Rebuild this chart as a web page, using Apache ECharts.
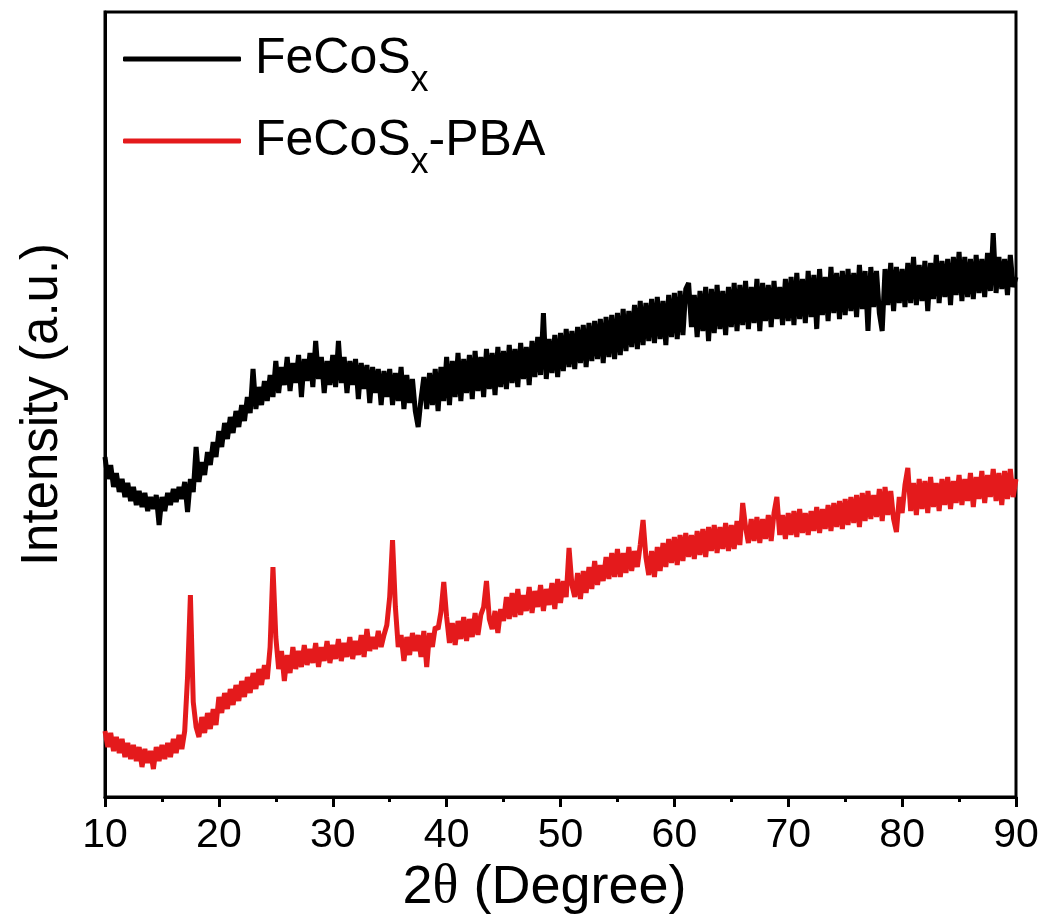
<!DOCTYPE html>
<html>
<head>
<meta charset="utf-8">
<style>html,body{margin:0;padding:0;background:#fff}#chart{width:1045px;height:921px}</style>
<script src="https://cdn.jsdelivr.net/npm/echarts@6/dist/echarts.min.js"></script>
</head>
<body>
<div id="chart"></div>
<script>
// 2θ angles (degrees)
const twoTheta = [
10,10.25,10.5,10.75,11,11.25,11.5,11.75,12,12.25,12.5,12.75,13,13.25,13.5,13.75,14,14.25,14.5,14.75,
15,15.25,15.5,15.75,16,16.25,16.5,16.75,17,17.25,17.5,17.75,18,18.25,18.5,18.75,19,19.25,19.5,19.75,
20,20.25,20.5,20.75,21,21.25,21.5,21.75,22,22.25,22.5,22.75,23,23.25,23.5,23.75,24,24.25,24.5,24.75,
25,25.25,25.5,25.75,26,26.25,26.5,26.75,27,27.25,27.5,27.75,28,28.25,28.5,28.75,29,29.25,29.5,29.75,
30,30.25,30.5,30.75,31,31.25,31.5,31.75,32,32.25,32.5,32.75,33,33.25,33.5,33.75,34,34.25,34.5,34.75,
35,35.25,35.5,35.75,36,36.25,36.5,36.75,37,37.25,37.5,37.75,38,38.25,38.5,38.75,39,39.25,39.5,39.75,
40,40.25,40.5,40.75,41,41.25,41.5,41.75,42,42.25,42.5,42.75,43,43.25,43.5,43.75,44,44.25,44.5,44.75,
45,45.25,45.5,45.75,46,46.25,46.5,46.75,47,47.25,47.5,47.75,48,48.25,48.5,48.75,49,49.25,49.5,49.75,
50,50.25,50.5,50.75,51,51.25,51.5,51.75,52,52.25,52.5,52.75,53,53.25,53.5,53.75,54,54.25,54.5,54.75,
55,55.25,55.5,55.75,56,56.25,56.5,56.75,57,57.25,57.5,57.75,58,58.25,58.5,58.75,59,59.25,59.5,59.75,
60,60.25,60.5,60.75,61,61.25,61.5,61.75,62,62.25,62.5,62.75,63,63.25,63.5,63.75,64,64.25,64.5,64.75,
65,65.25,65.5,65.75,66,66.25,66.5,66.75,67,67.25,67.5,67.75,68,68.25,68.5,68.75,69,69.25,69.5,69.75,
70,70.25,70.5,70.75,71,71.25,71.5,71.75,72,72.25,72.5,72.75,73,73.25,73.5,73.75,74,74.25,74.5,74.75,
75,75.25,75.5,75.75,76,76.25,76.5,76.75,77,77.25,77.5,77.75,78,78.25,78.5,78.75,79,79.25,79.5,79.75,
80,80.25,80.5,80.75,81,81.25,81.5,81.75,82,82.25,82.5,82.75,83,83.25,83.5,83.75,84,84.25,84.5,84.75,
85,85.25,85.5,85.75,86,86.25,86.5,86.75,87,87.25,87.5,87.75,88,88.25,88.5,88.75,89,89.25,89.5,89.75,
90
];

// FeCoSx intensity (a.u.)
const fecosx = [
340,318,332,310,324,305,318,300,314,296,310,292,306,290,304,286,300,288,302,272,
300,286,304,292,308,295,310,298,315,285,318,305,350,315,335,322,345,332,355,340,
366,350,374,358,380,364,386,370,392,376,400,384,428,388,410,392,416,396,422,400,
436,404,430,412,440,406,434,414,442,400,438,416,444,410,456,418,440,404,436,412,
442,410,456,414,440,404,436,412,438,398,434,408,432,394,430,404,428,392,426,400,
428,392,424,396,430,388,422,394,418,386,370,398,420,388,424,392,428,386,430,396,
440,392,436,400,444,396,438,404,442,398,446,406,440,400,448,408,444,402,450,410,
446,408,452,414,448,410,454,418,450,412,456,420,460,422,484,418,458,424,462,420,
464,426,468,430,466,428,470,434,472,430,474,436,476,438,478,434,480,440,482,438,
484,442,488,446,486,450,492,448,496,452,494,456,498,454,500,458,496,452,502,460,
504,458,506,462,508,514,470,502,460,506,466,510,456,508,464,512,468,506,462,510,
470,514,466,512,472,516,468,510,474,518,466,514,476,512,470,516,478,510,472,518,
476,520,472,524,478,518,474,526,480,522,468,528,482,520,476,530,484,524,478,526,
482,528,486,524,480,532,488,526,466,530,490,526,484,466,528,492,534,486,530,494,
528,490,534,494,540,492,532,496,536,486,534,498,542,494,536,500,538,492,540,502,
545,496,540,500,538,498,542,504,538,500,544,506,564,504,540,508,538,502,542,510,
520
];

// FeCoSx-PBA intensity (a.u.)
const fecosxPba = [
66,50,64,46,60,44,58,40,54,38,52,36,50,30,48,34,46,28,50,36,
52,38,54,40,58,44,62,48,66,120,202,95,70,60,80,64,84,68,88,72,
100,84,104,88,108,92,112,96,116,100,120,104,124,108,128,112,132,118,150,230,
160,128,146,116,142,124,150,128,146,130,152,132,148,134,154,130,150,136,156,134,
152,138,158,136,154,140,160,138,156,142,162,140,168,146,160,148,166,150,162,172,
200,257,190,150,162,136,160,142,164,146,162,140,166,130,164,150,170,168,185,215,
180,154,174,152,176,158,180,156,178,160,184,162,182,190,216,178,168,186,164,188,
176,200,178,204,180,208,182,202,186,210,184,206,190,212,186,208,192,214,188,218,
194,216,200,249,212,200,224,198,226,204,230,208,236,212,232,216,240,218,244,220,
248,220,244,224,250,226,246,230,252,277,240,222,246,220,250,226,254,230,258,234,
260,232,262,236,264,240,262,238,266,242,268,240,270,246,272,244,270,248,274,246,
272,248,276,252,294,270,254,278,256,280,254,278,258,282,256,284,300,262,282,258,
284,262,286,260,288,264,284,262,286,266,290,264,288,268,292,266,294,270,296,268,
298,272,300,274,302,270,304,276,306,278,302,280,308,276,310,282,306,278,265,300,
284,312,329,286,314,282,318,288,316,284,320,290,314,286,318,292,320,288,316,294,
322,292,318,296,324,290,320,298,326,294,322,300,328,296,324,292,326,298,328,300,
318
];

const seriesNames = ['FeCoSx', 'FeCoSx-PBA'];
const xTicks = [10, 20, 30, 40, 50, 60, 70, 80, 90];

const FONT = "'Liberation Sans', Arial, sans-serif";
const legendRich = {
  'FeCoSx': '{m|FeCoS}{s|x}',
  'FeCoSx-PBA': '{m|FeCoS}{s|x}{m|-PBA}'
};

const chart = echarts.init(document.getElementById('chart'));
chart.setOption({
  animation: false,
  backgroundColor: '#fff',
  grid: {left: 105, right: 29, top: 12, bottom: 124, show: true, borderColor: '#000', borderWidth: 3, backgroundColor: 'transparent'},
  legend: {
    orient: 'vertical', left: 123, top: 19, padding: 0, itemWidth: 118, itemHeight: 5, itemGap: 2,
    icon: 'roundRect', selectedMode: false, data: seriesNames,
    formatter: n => legendRich[n],
    textStyle: {
      padding: [0, 0, 0, 9],
      rich: {
        m: {fontSize: 50, fontFamily: FONT, color: '#000', lineHeight: 80},
        s: {fontSize: 36, fontFamily: FONT, color: '#000', lineHeight: 36, padding: [44, 0, 0, 0]}
      }
    }
  },
  xAxis: {
    type: 'value', min: xTicks[0], max: xTicks[xTicks.length - 1], interval: 10,
    axisLine: {show: true, lineStyle: {color: '#000', width: 3}},
    axisTick: {show: true, length: 10, lineStyle: {color: '#000', width: 3}},
    minorTick: {show: true, splitNumber: 2, length: 5, lineStyle: {color: '#000', width: 3}},
    splitLine: {show: false},
    axisLabel: {fontSize: 41, color: '#000', fontFamily: FONT, margin: 18},
    name: '{a|2}{t|θ}{a| (Degree)}', nameLocation: 'middle', nameGap: 63,
    nameTextStyle: {
      padding: [0, 32, 0, 0],
      rich: {
        a: {fontSize: 54, fontFamily: FONT, color: '#000'},
        t: {fontSize: 54, fontFamily: "'Liberation Serif', 'DejaVu Serif', serif", color: '#000'}
      }
    }
  },
  yAxis: {
    type: 'value', min: 0, max: 785,
    axisLine: {show: true, lineStyle: {color: '#000', width: 3}},
    axisTick: {show: false}, axisLabel: {show: false}, splitLine: {show: false},
    name: 'Intensity (a.u.)', nameLocation: 'middle', nameGap: 37,
    nameTextStyle: {fontSize: 51, fontFamily: FONT, color: '#000'}
  },
  series: [
    {
      name: seriesNames[0], type: 'line', symbol: 'none', color: '#000',
      lineStyle: {color: '#000', width: 5},
      data: twoTheta.map((t, i) => [t, fecosx[i]])
    },
    {
      name: seriesNames[1], type: 'line', symbol: 'none', color: '#e41a1c',
      lineStyle: {color: '#e41a1c', width: 5},
      data: twoTheta.map((t, i) => [t, fecosxPba[i]])
    }
  ]
});
</script>
</body>
</html>
